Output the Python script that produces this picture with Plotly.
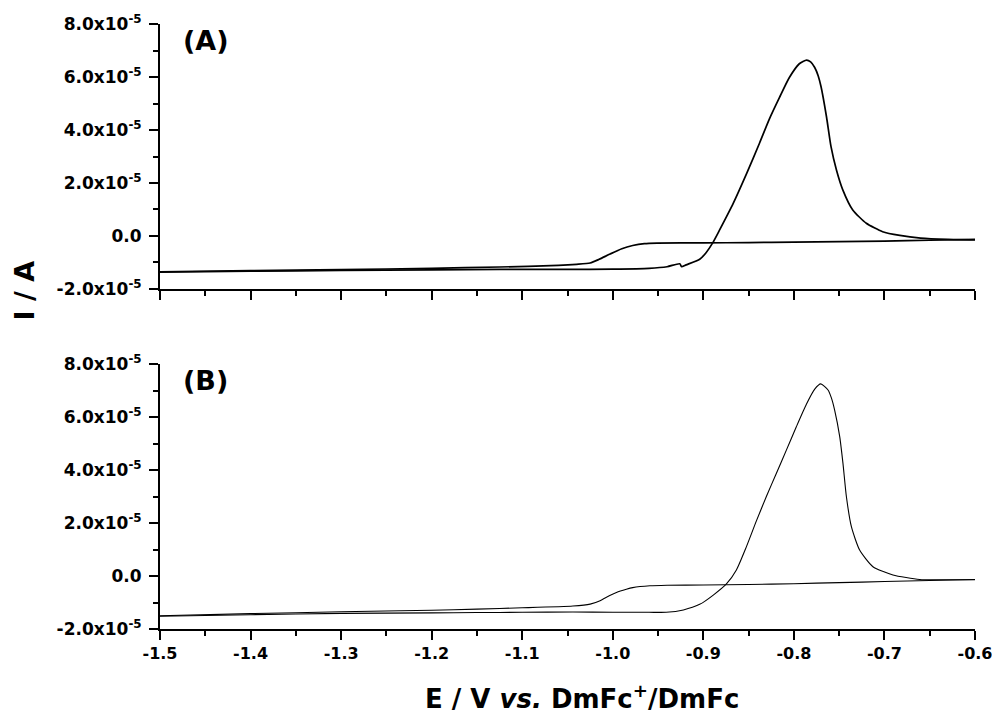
import plotly.graph_objects as go
from plotly.subplots import make_subplots

# Current values are listed in units of 1e-5 A
SCALE = 1e-5

# Panel (A): cathodic sweep (listed in ascending potential)
E_A_cath = [-1.5, -1.4, -1.3, -1.2, -1.125, -1.06, -1.04, -1.025, -1.015, -1.003,
            -0.99, -0.978, -0.965, -0.951, -0.9, -0.85, -0.8, -0.75, -0.7, -0.65, -0.6]
I_A_cath = [-1.35, -1.31, -1.27, -1.22, -1.17, -1.11, -1.07, -1.02, -0.88, -0.68,
            -0.48, -0.36, -0.29, -0.27, -0.26, -0.25, -0.23, -0.21, -0.19, -0.16, -0.13]

# Panel (A): anodic sweep with stripping peak
E_A_anod = [-1.5, -1.4, -1.3, -1.2, -1.125, -1.05, -1.0, -0.96, -0.94, -0.926,
            -0.924, -0.919, -0.904, -0.897, -0.890, -0.882, -0.867, -0.852, -0.838,
            -0.827, -0.816, -0.805, -0.794, -0.786, -0.7815, -0.777, -0.7732, -0.770,
            -0.764, -0.759, -0.753, -0.746, -0.735, -0.720, -0.702, -0.683, -0.66,
            -0.63, -0.6]
I_A_anod = [-1.36, -1.33, -1.30, -1.28, -1.26, -1.26, -1.25, -1.22, -1.16, -1.05,
            -1.16, -1.09, -0.88, -0.63, -0.28, 0.23, 1.23, 2.37, 3.50,
            4.42, 5.22, 5.98, 6.50, 6.64, 6.57, 6.36, 6.05, 5.63,
            4.50, 3.37, 2.49, 1.74, 0.98, 0.48, 0.16, 0.02, -0.08,
            -0.13, -0.15]

# Panel (B): cathodic sweep
E_B_cath = [-1.5, -1.4, -1.3, -1.2, -1.15, -1.1, -1.044, -1.025, -1.014, -1.007,
            -0.996, -0.985, -0.978, -0.959, -0.94, -0.9, -0.85, -0.8, -0.75, -0.7,
            -0.65, -0.6]
I_B_cath = [-1.50, -1.42, -1.35, -1.29, -1.25, -1.20, -1.13, -1.06, -0.93, -0.80,
            -0.62, -0.50, -0.44, -0.37, -0.35, -0.34, -0.32, -0.29, -0.25, -0.21,
            -0.17, -0.13]

# Panel (B): anodic sweep with stripping peak
E_B_anod = [-1.5, -1.4, -1.3, -1.2, -1.15, -1.1, -1.044, -1.0, -0.96, -0.941,
            -0.922, -0.904, -0.889, -0.8745, -0.8635, -0.8524, -0.8414, -0.8304,
            -0.8193, -0.8083, -0.7973, -0.7862, -0.777, -0.7704, -0.7623, -0.7586,
            -0.755, -0.7494, -0.7458, -0.742, -0.7365, -0.7274, -0.7127, -0.6906,
            -0.6611, -0.63, -0.6]
I_B_anod = [-1.52, -1.46, -1.41, -1.39, -1.38, -1.37, -1.36, -1.37, -1.37, -1.37,
            -1.28, -1.07, -0.72, -0.30, 0.23, 1.11, 2.08, 3.00,
            3.88, 4.75, 5.63, 6.48, 7.05, 7.25, 7.02, 6.72,
            6.26, 5.26, 4.25, 2.99, 1.86, 0.98, 0.35, 0.04,
            -0.13, -0.14, -0.14]

y_tickvals = [-2e-5, 0.0, 2e-5, 4e-5, 6e-5, 8e-5]
y_ticktext = ["-2.0x10<sup>-5</sup>", "0.0", "2.0x10<sup>-5</sup>",
              "4.0x10<sup>-5</sup>", "6.0x10<sup>-5</sup>", "8.0x10<sup>-5</sup>"]
x_tickvals = [-1.5, -1.4, -1.3, -1.2, -1.1, -1.0, -0.9, -0.8, -0.7, -0.6]
x_ticktext = ["-1.5", "-1.4", "-1.3", "-1.2", "-1.1", "-1.0", "-0.9", "-0.8", "-0.7", "-0.6"]

FONT = "DejaVu Sans"

fig = make_subplots(rows=2, cols=1, vertical_spacing=0.1240)

def scaled(vals):
    return [v * SCALE for v in vals]

for (E, I, row, w) in [(E_A_cath, I_A_cath, 1, 1.7), (E_A_anod, I_A_anod, 1, 1.7),
                       (E_B_cath, I_B_cath, 2, 1.1), (E_B_anod, I_B_anod, 2, 1.1)]:
    fig.add_trace(go.Scatter(x=E, y=scaled(I), mode="lines",
                             line=dict(color="black", width=w, shape="spline", smoothing=0.6),
                             showlegend=False, hoverinfo="skip"),
                  row=row, col=1)

axis_common = dict(showline=True, linecolor="black", linewidth=2, mirror=False,
                   showgrid=False, zeroline=False, ticks="outside", ticklen=9,
                   tickwidth=2, tickcolor="black", automargin=False,
                   ticklabeloverflow="allow")

for row in (1, 2):
    fig.update_xaxes(range=[-1.5, -0.6], tickvals=x_tickvals, ticktext=x_ticktext,
                     showticklabels=(row == 2),
                     tickfont=dict(family=FONT, size=16, color="black", weight="bold"),
                     minor=dict(dtick=0.05, tick0=-1.5, ticks="outside", ticklen=5,
                                tickwidth=1.5, tickcolor="black"),
                     **axis_common, row=row, col=1)
    fig.update_yaxes(range=[-2e-5, 8e-5], tickvals=y_tickvals, ticktext=y_ticktext,
                     tickfont=dict(family=FONT, size=17, color="black", weight="bold"),
                     ticklabelstandoff=4,
                     minor=dict(dtick=1e-5, tick0=-2e-5, ticks="outside", ticklen=5,
                                tickwidth=1.5, tickcolor="black"),
                     **axis_common, row=row, col=1)

fig.update_layout(
    width=992, height=720,
    margin=dict(l=160, r=17, t=24, b=91, autoexpand=False),
    plot_bgcolor="white", paper_bgcolor="white",
    font=dict(family=FONT, color="black"),
    annotations=[
        dict(text="(A)", x=0.026, y=1.002, xref="paper", yref="paper",
             xanchor="left", yanchor="top", showarrow=False,
             font=dict(family=FONT, size=27, weight="bold", color="black")),
        dict(text="(B)", x=0.026, y=0.440, xref="paper", yref="paper",
             xanchor="left", yanchor="top", showarrow=False,
             font=dict(family=FONT, size=27, weight="bold", color="black")),
        dict(text="I / A", x=-0.166, y=0.559, xref="paper", yref="paper",
             xanchor="center", yanchor="middle", showarrow=False, textangle=-90,
             font=dict(family=FONT, size=27, weight="bold", color="black")),
        dict(text="E / V <i>vs.</i> DmFc<sup>+</sup>/DmFc", x=0.518, y=-0.112,
             xref="paper", yref="paper", xanchor="center", yanchor="middle",
             showarrow=False,
             font=dict(family=FONT, size=26, weight="bold", color="black")),
    ],
)

fig.write_html("out.html")
